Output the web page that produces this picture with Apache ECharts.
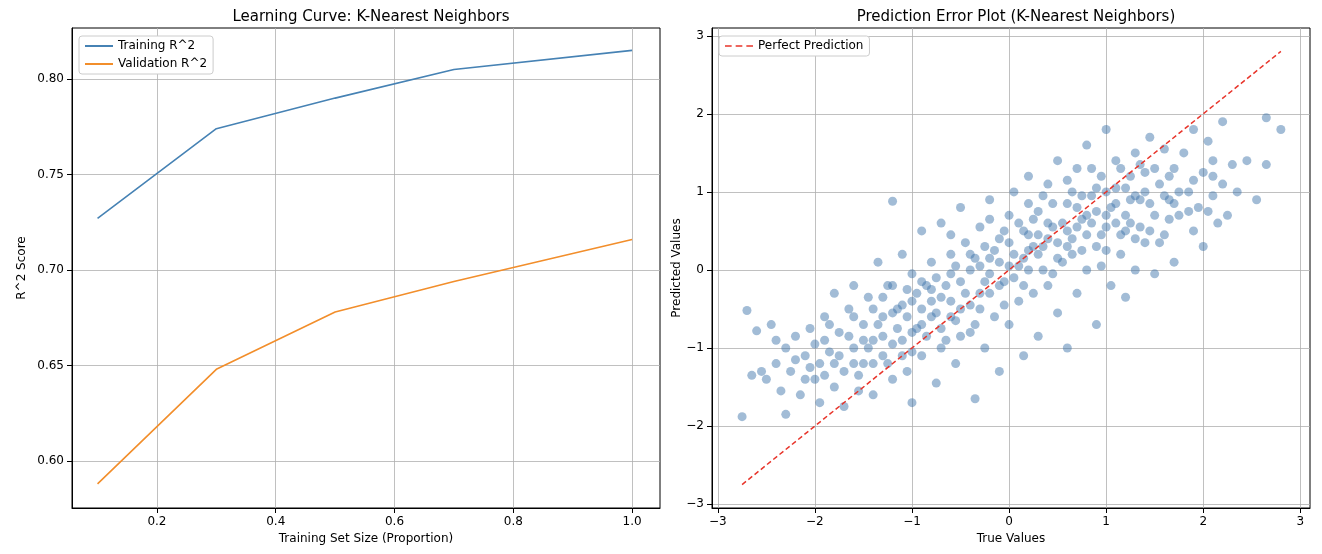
<!DOCTYPE html>
<html><head><meta charset="utf-8">
<script src="https://cdn.jsdelivr.net/npm/echarts@6/dist/echarts.min.js"></script>
<style>html,body{margin:0;background:#fff}#c{width:1322px;height:554px}</style></head>
<body><div id="c"></div>
<script>
const trainSizes=[0.1,0.3,0.5,0.7,1.0];
const trainR2=[0.727,0.774,0.790,0.805,0.815];
const valR2=[0.588,0.648,0.678,0.694,0.716];
const perfectLine=[[-2.75,-2.75],[2.8,2.8]];
const scatterPts=[
[-2.75,-1.88],[-2.7,-0.52],[-2.65,-1.35],[-2.6,-0.78],[-2.55,-1.3],[-2.5,-1.4],[-2.45,-0.7],[-2.4,-1.2],[-2.35,-1.55],[-2.3,-1.85],[-2.3,-1.0],[-2.25,-1.3],[-2.2,-0.85],[-2.15,-1.6],[-2.1,-1.1],[-2.05,-0.75],[-2.0,-1.4],[-2.0,-0.95],[-1.95,-1.7],[-1.95,-1.2],[-1.9,-0.6],[-1.85,-1.05],[-1.8,-1.5],[-1.8,-0.3],[-1.75,-0.8],[-1.7,-1.3],[-1.7,-1.75],[-1.65,-0.5],[-1.6,-1.0],[-1.6,-0.2],[-1.55,-1.55],[-1.5,-0.7],[-1.5,-1.2],[-1.45,-0.35],[-1.4,-0.9],[-1.4,-1.6],[-1.35,0.1],[-1.3,-0.6],[-1.3,-1.1],[-1.25,-0.2],[-1.2,-1.4],[-1.2,0.88],[-1.15,-0.5],[-1.1,-0.9],[-1.1,0.2],[-1.05,-1.3],[-1.0,-0.4],[-1.0,-0.05],[-1.0,-1.7],[-0.95,-0.75],[-0.9,0.5],[-0.9,-1.1],[-0.85,-0.2],[-0.8,0.1],[-0.8,-0.6],[-0.75,-1.45],[-0.7,0.6],[-0.7,-0.35],[-0.65,-0.9],[-0.6,0.2],[-0.6,-0.05],[-0.55,-1.2],[-0.5,0.8],[-0.5,-0.5],[-0.45,0.35],[-0.4,-0.8],[-0.4,0.0],[-0.35,-1.65],[-0.3,0.55],[-0.3,-0.3],[-0.25,-1.0],[-0.2,0.9],[-0.2,0.15],[-0.15,-0.6],[-0.1,0.4],[-0.1,-1.3],[-0.05,-0.15],[0.0,0.7],[0.0,-0.7],[0.05,0.2],[0.05,1.0],[0.1,-0.4],[0.15,0.5],[0.15,-1.1],[0.2,0.0],[0.2,1.2],[0.25,-0.3],[0.3,0.75],[0.3,-0.85],[0.35,0.3],[0.4,1.1],[0.4,-0.2],[0.45,0.55],[0.5,1.4],[0.5,-0.55],[0.55,0.1],[0.6,0.85],[0.6,-1.0],[0.65,0.4],[0.7,1.3],[0.7,-0.3],[0.75,0.65],[0.8,0.0],[0.8,1.6],[0.85,0.95],[0.9,0.3],[0.9,-0.7],[0.95,1.2],[1.0,0.55],[1.0,1.8],[1.05,-0.2],[1.1,0.85],[1.1,1.4],[1.15,0.2],[1.2,1.05],[1.2,-0.35],[1.25,0.6],[1.3,1.5],[1.3,0.0],[1.35,0.9],[1.4,1.25],[1.4,0.35],[1.45,1.7],[1.5,0.7],[1.5,-0.05],[1.55,1.1],[1.6,0.45],[1.6,1.55],[1.65,0.9],[1.7,1.3],[1.7,0.1],[1.75,0.7],[1.8,1.5],[1.85,1.0],[1.9,0.5],[1.9,1.8],[1.95,0.8],[2.0,1.25],[2.0,0.3],[2.05,1.65],[2.1,0.95],[2.1,1.4],[2.15,0.6],[2.2,1.1],[2.2,1.9],[2.25,0.7],[2.3,1.35],[2.35,1.0],[2.45,1.4],[2.55,0.9],[2.65,1.95],[2.65,1.35],[2.8,1.8],
[-1.6,-0.6],[-1.5,-0.9],[-1.4,-1.2],[-1.3,-0.85],[-1.2,-0.55],[-1.1,-0.45],[-1.0,-0.8],[-0.9,-0.5],[-0.8,-0.25],[-0.7,-0.75],[-0.6,-0.4],[-0.5,-0.15],[-0.4,-0.45],[-0.3,0.05],[-0.2,-0.3],[-0.1,0.1],[0.0,0.35],[0.1,0.05],[0.2,0.45],[0.3,0.2],[0.4,0.6],[0.5,0.35],[0.6,0.5],[0.7,0.8],[0.8,0.45],[0.9,0.75],[1.0,1.0],[1.1,0.6],[1.2,0.7],[1.3,0.95],[-1.8,-1.2],[-1.9,-0.9],[-2.1,-1.4],[-1.2,-0.95],[-0.75,-0.1],[-0.25,0.3],[0.25,0.65],[0.75,0.25],[1.25,1.2],[1.75,1.0],[-0.55,-0.65],[-0.05,-0.45],[0.45,-0.05],[0.95,0.05],[1.45,0.5],[-1.05,-0.25],[-1.55,-1.35],[-0.35,-0.7],[0.15,-0.2],[0.65,1.0],[1.15,1.3],[1.65,1.2],[2.05,0.75],
[-1.75,-1.1],[-1.65,-0.85],[-1.45,-1.0],[-1.35,-0.7],[-1.25,-1.2],[-1.15,-0.75],[-1.05,-0.6],[-0.95,-0.3],[-0.85,-0.85],[-0.75,-0.55],[-0.65,-0.2],[-0.55,0.05],[-0.45,-0.3],[-0.35,0.15],[-0.25,-0.15],[-0.15,0.25],[-0.05,0.5],[0.05,-0.1],[0.15,0.15],[0.25,0.3],[0.35,0.0],[0.45,0.85],[0.55,0.6],[0.65,0.2],[0.75,0.95],[0.85,0.6],[0.95,0.45],[1.05,0.8],[1.15,0.45],[1.25,0.9],[1.35,0.55],[1.45,0.85],[1.55,0.35],[1.65,0.65],[1.85,0.75],[-2.4,-0.9],[-2.2,-1.15],[-2.05,-1.25],[-1.9,-1.35],[-1.85,-0.7],[-1.6,-1.2],[-1.3,-0.35],[-1.1,-1.1],[-0.9,-0.7],[-0.7,-1.0],[-0.5,-0.85],[-0.3,-0.5],[-0.1,-0.2],[0.1,0.6],[0.3,0.45],[0.5,0.15],[0.7,0.55],[0.9,1.05],[1.1,1.05],[1.3,0.4],[1.5,1.3],[1.7,0.85],[1.9,1.15],[2.1,1.2],[-0.6,0.45],[-0.2,0.65],[0.2,0.85],[0.6,1.15],[1.0,0.25],[-1.4,-0.5],[-0.8,-0.4],[-0.4,0.2],[0.0,0.05],[0.4,0.4],[0.8,0.7],[1.2,0.5],[1.6,0.95],[-1.0,-1.05],[-0.6,-0.6],[-0.2,-0.05],[0.2,0.25],[0.6,0.3],[1.0,0.7],[1.4,1.0],[-1.2,-0.2],[-0.9,-0.15],[0.35,0.95],[0.85,1.3],[1.35,1.35]
];
const chart=echarts.init(document.getElementById('c'));
const tf={color:'#000',fontSize:12,fontFamily:'DejaVu Sans'};
const gridLine={show:true,lineStyle:{color:'#b0b0b0',width:0.8}};
const axLine={show:true,onZero:false,lineStyle:{color:'#000'}};
const fmtNeg=v=>String(v).replace('-','−');
chart.setOption({
 animation:false,
 title:[{text:'Learning Curve: K-Nearest Neighbors',left:366,top:5,textAlign:'center',textStyle:{fontSize:15,fontWeight:'normal',color:'#000',fontFamily:'DejaVu Sans'}},
  {text:'Prediction Error Plot (K-Nearest Neighbors)',left:1011,top:5,textAlign:'center',textStyle:{fontSize:15,fontWeight:'normal',color:'#000',fontFamily:'DejaVu Sans'}}],
 legend:[{data:['Training R^2','Validation R^2'],orient:'vertical',left:79,top:36,itemWidth:28,itemHeight:2,itemGap:6,icon:'rect',textStyle:tf,borderColor:'#ccc',borderWidth:1,borderRadius:3,padding:[4,6],backgroundColor:'#fff'},
  {data:[{name:'Perfect Prediction',icon:'path://M0,0H5V1H0Z M8,0H13V1H8Z M16,0H21V1H16Z'}],left:719,top:36,itemWidth:28,itemHeight:2,textStyle:tf,borderColor:'#ccc',borderWidth:1,borderRadius:3,padding:[4,6],backgroundColor:'#fff'}],
 grid:[{left:72,top:28,width:588,height:480,show:true,borderColor:'#000',borderWidth:1},
  {left:712,top:28,width:598,height:480,show:true,borderColor:'#000',borderWidth:1}],
 xAxis:[{gridIndex:0,type:'value',min:0.057,max:1.047,name:'Training Set Size (Proportion)',nameLocation:'middle',nameGap:24,nameTextStyle:tf,axisLabel:{...tf,customValues:[0.2,0.4,0.6,0.8,1.0],formatter:v=>v.toFixed(1)},axisTick:{show:true,customValues:[0.2,0.4,0.6,0.8,1.0]},splitLine:gridLine,axisLine:axLine},
  {gridIndex:1,type:'value',min:-3.06,max:3.1,name:'True Values',nameLocation:'middle',nameGap:24,nameTextStyle:tf,axisLabel:{...tf,customValues:[-3,-2,-1,0,1,2,3],formatter:fmtNeg},axisTick:{show:true,customValues:[-3,-2,-1,0,1,2,3]},splitLine:gridLine,axisLine:axLine}],
 yAxis:[{gridIndex:0,type:'value',min:0.5754,max:0.8267,name:'R^2 Score',nameLocation:'middle',nameGap:44,nameTextStyle:tf,axisLabel:{...tf,customValues:[0.6,0.65,0.7,0.75,0.8],formatter:v=>v.toFixed(2)},axisTick:{show:true,customValues:[0.6,0.65,0.7,0.75,0.8]},splitLine:gridLine,axisLine:axLine},
  {gridIndex:1,type:'value',min:-3.05,max:3.1,name:'Predicted Values',nameLocation:'middle',nameGap:26,nameTextStyle:tf,axisLabel:{...tf,customValues:[-3,-2,-1,0,1,2,3],formatter:fmtNeg},axisTick:{show:true,customValues:[-3,-2,-1,0,1,2,3]},splitLine:gridLine,axisLine:axLine}],
 series:[
  {name:'Training R^2',type:'line',xAxisIndex:0,yAxisIndex:0,data:trainSizes.map((x,i)=>[x,trainR2[i]]),showSymbol:false,lineStyle:{color:'#4682b4',width:1.6},itemStyle:{color:'#4682b4'}},
  {name:'Validation R^2',type:'line',xAxisIndex:0,yAxisIndex:0,data:trainSizes.map((x,i)=>[x,valR2[i]]),showSymbol:false,lineStyle:{color:'#f28e2b',width:1.6},itemStyle:{color:'#f28e2b'}},
  {name:'scatter',type:'scatter',xAxisIndex:1,yAxisIndex:1,data:scatterPts,symbolSize:9,itemStyle:{color:'rgba(60,115,170,0.6)'}},
  {name:'Perfect Prediction',type:'line',xAxisIndex:1,yAxisIndex:1,data:perfectLine,showSymbol:false,lineStyle:{color:'#e8342a',type:[5,3],width:1.5},itemStyle:{color:'#e8342a'},z:5}
 ]
});
</script></body></html>
